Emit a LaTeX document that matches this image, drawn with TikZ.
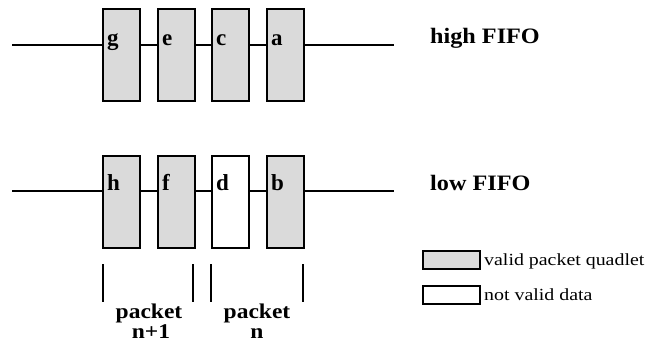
\documentclass[tikz,border=0pt]{standalone}
\usepackage{fontspec}
\usepackage{graphicx}
\setmainfont{Liberation Serif}
\definecolor{cellgray}{HTML}{DADADA}
\begin{document}
\begin{tikzpicture}[x=1pt,y=-1pt,
  cell/.style={draw=black,line width=2.2pt,minimum width=37pt,minimum height=92pt,inner sep=0pt,anchor=north west},
  valid/.style={cell,fill=cellgray},
  invalid/.style={cell,fill=white},
  letter/.style={font=\fontsize{23}{24}\selectfont\bfseries,inner sep=0pt,anchor=base west},
  wire/.style={line width=2.2pt},
  fifolabel/.style={font=\fontsize{22}{24}\selectfont\bfseries,inner sep=0pt,anchor=base west},
  pklabel/.style={font=\fontsize{21}{22}\selectfont\bfseries,inner sep=0pt,anchor=base,align=center},
  legbox/.style={draw=black,line width=1.8pt,minimum width=57pt,minimum height=18pt,inner sep=0pt,anchor=north west},
  legtext/.style={font=\fontsize{17}{18}\selectfont,inner sep=0pt,anchor=base west}]
\useasboundingbox (0,0) rectangle (647,343);
% high FIFO
\coordinate (hs) at (12,45);
\coordinate (he) at (394,45);
\node[valid] (g) at (102,8) {};
\node[valid] (e) at (157,8) {};
\node[valid] (c) at (211,8) {};
\node[valid] (a) at (266,8) {};
\draw[wire] (hs) -- (hs -| g.west);
\draw[wire] (g.east |- hs) -- (e.west |- hs);
\draw[wire] (e.east |- hs) -- (c.west |- hs);
\draw[wire] (c.east |- hs) -- (a.west |- hs);
\draw[wire] (a.east |- hs) -- (he);
\node[letter] (lg) at (107,45) {g};
\node[letter] (le) at (162,45) {e};
\node[letter] (lc) at (216,45) {c};
\node[letter] (la) at (271,45) {a};
\node[fifolabel] (hf) at (430,43) {\scalebox{1.1}[1]{high FIFO}};
% low FIFO
\coordinate (ls) at (12,191);
\coordinate (le2) at (394,191);
\node[valid] (h) at (102,155) {};
\node[valid] (f) at (157,155) {};
\node[invalid] (d) at (211,155) {};
\node[valid] (b) at (266,155) {};
\draw[wire] (ls) -- (ls -| h.west);
\draw[wire] (h.east |- ls) -- (f.west |- ls);
\draw[wire] (f.east |- ls) -- (d.west |- ls);
\draw[wire] (d.east |- ls) -- (b.west |- ls);
\draw[wire] (b.east |- ls) -- (le2);
\node[letter] (lh) at (107,190) {h};
\node[letter] (lf) at (162,190) {f};
\node[letter] (ld) at (216,190) {d};
\node[letter] (lb) at (271,190) {b};
\node[fifolabel] (lf2) at (430,190) {\scalebox{1.1}[1]{low FIFO}};
% packet brackets
\coordinate (t1) at (103,264); \coordinate (b1) at (103,302);
\coordinate (t2) at (193,264); \coordinate (b2) at (193,302);
\coordinate (t3) at (211,264); \coordinate (b3) at (211,302);
\coordinate (t4) at (303,264); \coordinate (b4) at (303,302);
\draw[wire] (t1) -- (b1);
\draw[wire] (t2) -- (b2);
\draw[wire] (t3) -- (b3);
\draw[wire] (t4) -- (b4);
\node[pklabel] (p1) at (149,318) {\scalebox{1.12}[1]{packet}};
\node[pklabel] (p1n) at (151,338) {\scalebox{1.12}[1]{n+1}};
\node[pklabel] (p2) at (257,318) {\scalebox{1.12}[1]{packet}};
\node[pklabel] (p2n) at (257,338) {\scalebox{1.12}[1]{n}};
% legend
\node[legbox,fill=cellgray] (lg1) at (422,250) {};
\node[legbox,fill=white] (lg2) at (422,285) {};
\node[legtext] (lt1) at (484,265) {\scalebox{1.17}[1]{valid packet quadlet}};
\node[legtext] (lt2) at (484,300) {\scalebox{1.17}[1]{not valid data}};
\end{tikzpicture}
\end{document}
